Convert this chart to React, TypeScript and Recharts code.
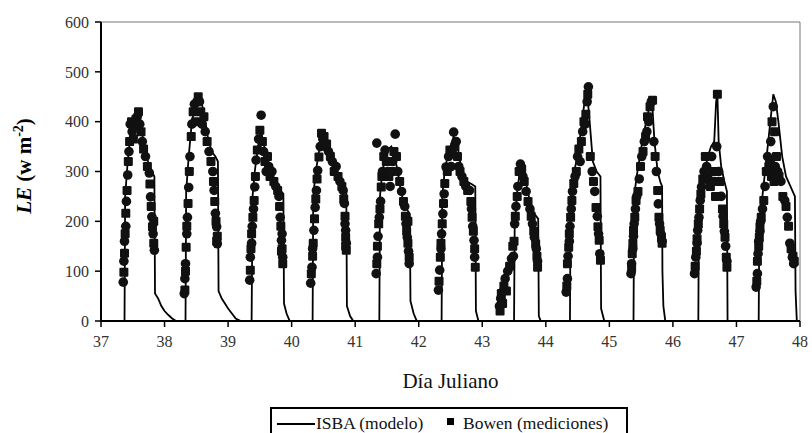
import { ComposedChart, Line, Scatter, XAxis, YAxis, ReferenceArea } from "recharts";

// Flujo de calor latente: ISBA (modelo) vs. Bowen (mediciones), días julianos 37-48

const diasTicks = [37, 38, 39, 40, 41, 42, 43, 44, 45, 46, 47, 48];
const leTicks = [0, 100, 200, 300, 400, 500, 600];

// ISBA (modelo): una fila por día
const isbaDia = [
  37.0, 37.37, 37.38, 37.42, 37.47, 37.52, 37.58, 37.63, 37.68, 37.74, 37.8, 37.84, 37.85, 37.9, 37.95, 38.0, 38.06, 38.12, 38.18,
  38.33, 38.34, 38.38, 38.43, 38.48, 38.53, 38.58, 38.63, 38.68, 38.74, 38.8, 38.84, 38.85, 38.9, 38.95, 39.0, 39.06, 39.12, 39.2,
  39.37, 39.385, 39.42, 39.47, 39.52, 39.57, 39.62, 39.67, 39.73, 39.8, 39.87, 39.88, 39.92, 39.97,
  40.33, 40.34, 40.38, 40.43, 40.48, 40.53, 40.58, 40.63, 40.68, 40.74, 40.8, 40.86, 40.87, 40.92, 40.97,
  41.38, 41.39, 41.42, 41.47, 41.52, 41.57, 41.62, 41.67, 41.72, 41.78, 41.86, 41.87, 41.92, 41.97,
  42.36, 42.37, 42.4, 42.45, 42.5, 42.55, 42.6, 42.65, 42.7, 42.76, 42.83, 42.89, 42.9, 42.94,
  43.5, 43.51, 43.55, 43.6, 43.65, 43.7, 43.75, 43.82, 43.88, 43.89, 43.92,
  44.38, 44.39, 44.43, 44.48, 44.53, 44.58, 44.62, 44.65, 44.69, 44.74, 44.8, 44.86, 44.87, 44.92,
  45.38, 45.39, 45.43, 45.48, 45.53, 45.58, 45.63, 45.67, 45.71, 45.76, 45.8, 45.83, 45.835, 45.85, 45.88,
  46.4, 46.41, 46.45, 46.5, 46.55, 46.6, 46.65, 46.68, 46.7, 46.72, 46.76, 46.81, 46.85, 46.86,
  47.35, 47.36, 47.4, 47.45, 47.5, 47.55, 47.58, 47.62, 47.66, 47.72, 47.78, 47.85, 47.92, 47.93, 47.95, 48.0,
];
const isbaLE = [
  0, 0, 250, 320, 380, 400, 420, 390, 350, 320, 300, 290, 55, 45, 30, 20, 12, 5, 0,
  0, 260, 330, 400, 430, 450, 440, 410, 370, 340, 330, 320, 60, 45, 35, 25, 15, 5, 0,
  0, 250, 300, 350, 380, 350, 320, 300, 280, 265, 255, 35, 15, 0,
  0, 250, 300, 340, 375, 370, 345, 320, 300, 280, 270, 262, 30, 10, 0,
  0, 250, 290, 330, 345, 350, 330, 300, 260, 230, 215, 40, 15, 0,
  0, 250, 290, 330, 350, 370, 360, 320, 290, 280, 275, 270, 20, 0,
  0, 190, 260, 310, 300, 270, 240, 215, 205, 10, 0,
  0, 260, 290, 320, 360, 410, 450, 460, 400, 320, 300, 290, 25, 0,
  0, 250, 290, 330, 370, 400, 430, 445, 360, 300, 280, 270, 100, 30, 0,
  0, 250, 280, 300, 330, 350, 360, 440, 455, 360, 310, 280, 260, 0,
  0, 200, 240, 300, 360, 420, 455, 440, 400, 330, 290, 270, 250, 60, 0, 0,
];

// Bowen (mediciones): una fila por día (subida, máximo, bajada)
const bowenDia = [
  37.35, 37.36, 37.36, 37.37, 37.37, 37.38, 37.39, 37.39, 37.4, 37.41, 37.42, 37.43, 37.44, 37.45, 37.46, 37.48, 37.49, 37.51, 37.53, 37.55, 37.57, 37.59, 37.61, 37.63, 37.65, 37.67, 37.7, 37.73, 37.76, 37.77, 37.78, 37.79, 37.8, 37.81, 37.82, 37.83, 37.84, 37.83,
  38.31, 38.32, 38.32, 38.33, 38.33, 38.34, 38.35, 38.35, 38.36, 38.37, 38.38, 38.39, 38.4, 38.42, 38.43, 38.45, 38.47, 38.49, 38.51, 38.53, 38.55, 38.57, 38.59, 38.62, 38.64, 38.67, 38.7, 38.73, 38.76, 38.77, 38.78, 38.79, 38.8, 38.81, 38.82, 38.83, 38.83, 38.82,
  39.34, 39.35, 39.35, 39.36, 39.37, 39.37, 39.38, 39.39, 39.4, 39.41, 39.42, 39.43, 39.44, 39.46, 39.48, 39.5, 39.52, 39.54, 39.56, 39.58, 39.6, 39.62, 39.64, 39.66, 39.69, 39.72, 39.75, 39.78, 39.8, 39.81, 39.82, 39.83, 39.84, 39.85, 39.86, 39.86, 39.85, 39.84,
  40.3, 40.31, 40.32, 40.33, 40.33, 40.34, 40.35, 40.36, 40.37, 40.38, 40.39, 40.4, 40.41, 40.43, 40.45, 40.47, 40.49, 40.51, 40.53, 40.55, 40.58, 40.61, 40.64, 40.67, 40.7, 40.73, 40.76, 40.79, 40.81, 40.82, 40.83, 40.84, 40.85, 40.85, 40.86, 40.86, 40.84, 40.85,
  41.33, 41.34, 41.35, 41.35, 41.36, 41.37, 41.38, 41.39, 41.4, 41.41, 41.34, 41.42, 41.43, 41.45, 41.47, 41.49, 41.51, 41.53, 41.55, 41.57, 41.59, 41.61, 41.63, 41.65, 41.67, 41.7, 41.73, 41.76, 41.78, 41.79, 41.8, 41.81, 41.82, 41.83, 41.84, 41.85, 41.85, 41.83,
  42.31, 42.32, 42.33, 42.34, 42.35, 42.35, 42.36, 42.37, 42.38, 42.39, 42.4, 42.41, 42.43, 42.45, 42.47, 42.49, 42.51, 42.53, 42.55, 42.57, 42.59, 42.61, 42.63, 42.65, 42.68, 42.71, 42.74, 42.77, 42.8, 42.82, 42.83, 42.84, 42.85, 42.86, 42.87, 42.88, 42.88, 42.89,
  43.27, 43.28, 43.29, 43.3, 43.31, 43.32, 43.33, 43.34, 43.36, 43.38, 43.4, 43.43, 43.46, 43.48, 43.49, 43.5, 43.51, 43.52, 43.53, 43.55, 43.56, 43.58, 43.6, 43.62, 43.64, 43.66, 43.69, 43.72, 43.75, 43.77, 43.79, 43.81, 43.82, 43.84, 43.85, 43.86, 43.87, 43.87,
  44.32, 44.33, 44.34, 44.34, 44.35, 44.36, 44.37, 44.37, 44.38, 44.39, 44.4, 44.41, 44.42, 44.44, 44.46, 44.48, 44.5, 44.52, 44.54, 44.56, 44.58, 44.6, 44.62, 44.63, 44.65, 44.66, 44.67, 44.7, 44.73, 44.75, 44.77, 44.79, 44.81, 44.82, 44.83, 44.84, 44.85, 44.86,
  45.34, 45.35, 45.35, 45.36, 45.37, 45.37, 45.38, 45.38, 45.39, 45.4, 45.41, 45.42, 45.43, 45.45, 45.47, 45.49, 45.51, 45.53, 45.55, 45.57, 45.59, 45.6, 45.62, 45.64, 45.66, 45.68, 45.7, 45.72, 45.74, 45.76, 45.77, 45.78, 45.79, 45.8, 45.81, 45.82, 45.83, 45.83,
  46.34, 46.35, 46.36, 46.37, 46.38, 46.38, 46.39, 46.4, 46.41, 46.42, 46.43, 46.44, 46.45, 46.47, 46.49, 46.51, 46.53, 46.55, 46.57, 46.59, 46.61, 46.63, 46.65, 46.67, 46.69, 46.7, 46.72, 46.74, 46.76, 46.78, 46.79, 46.8, 46.81, 46.82, 46.83, 46.84, 46.85, 46.85,
  47.31, 47.32, 47.33, 47.33, 47.34, 47.35, 47.35, 47.36, 47.37, 47.37, 47.38, 47.39, 47.41, 47.43, 47.45, 47.47, 47.49, 47.51, 47.53, 47.55, 47.57, 47.59, 47.61, 47.63, 47.65, 47.67, 47.7, 47.73, 47.76, 47.78, 47.8, 47.82, 47.84, 47.86, 47.88, 47.89, 47.9, 47.91, 47.54, 47.56, 47.58, 47.6,
];
const bowenLE = [
  78, 98, 120, 136, 160, 175, 190, 216, 240, 262, 293, 320, 340, 360, 395, 400, 380, 365, 390, 405, 410, 420, 395, 380, 360, 345, 330, 310, 297, 275, 249, 230, 209, 189, 175, 156, 142, 200,
  55, 62, 85, 100, 115, 148, 175, 190, 208, 236, 268, 300, 330, 370, 395, 420, 435, 400, 440, 450, 440, 420, 395, 410, 380, 360, 340, 320, 300, 280, 262, 240, 216, 200, 189, 170, 155, 160,
  82, 102, 128, 145, 156, 175, 190, 208, 225, 242, 269, 290, 323, 343, 365, 383, 413, 360, 340, 320, 300, 330, 310, 290, 300, 280, 270, 262, 250, 230, 208, 190, 162, 145, 128, 115, 175, 140,
  76, 95, 108, 130, 145, 156, 182, 205, 228, 245, 262, 285, 302, 329, 350, 377, 365, 370, 350, 355, 340, 330, 320, 300, 310, 290, 280, 270, 262, 245, 236, 210, 182, 168, 156, 142, 195, 150,
  95, 115, 128, 150, 170, 195, 208, 225, 240, 269, 357, 290, 300, 330, 343, 320, 300, 290, 270, 300, 320, 340, 375, 330, 300, 280, 260, 240, 230, 210, 195, 180, 168, 156, 140, 128, 115, 200,
  62, 80, 102, 128, 145, 156, 175, 195, 215, 236, 255, 276, 309, 300, 330, 343, 310, 340, 379, 350, 360, 330, 310, 300, 290, 280, 270, 262, 262, 240, 225, 208, 190, 180, 162, 145, 128, 108,
  30, 20, 45, 55, 40, 35, 60, 70, 85, 60, 100, 110, 125, 150, 130, 160, 195, 210, 230, 250, 270, 300, 315, 305, 290, 280, 260, 240, 225, 210, 195, 180, 168, 155, 145, 130, 120, 108,
  58, 70, 85, 115, 130, 148, 160, 175, 190, 208, 225, 242, 260, 276, 290, 300, 330, 345, 320, 360, 380, 400, 395, 415, 440, 455, 470, 330, 300, 280, 260, 228, 210, 189, 175, 162, 135, 122,
  95, 105, 115, 135, 145, 156, 170, 182, 195, 208, 225, 242, 250, 260, 285, 310, 330, 340, 360, 370, 380, 410, 400, 430, 440, 443, 360, 330, 300, 262, 235, 208, 195, 182, 175, 168, 160, 156,
  95, 110, 128, 140, 156, 165, 182, 195, 208, 225, 242, 255, 269, 285, 300, 330, 310, 290, 280, 270, 330, 300, 280, 250, 350, 455, 300, 280, 250, 225, 210, 195, 180, 168, 150, 128, 120, 108,
  68, 80, 95, 120, 135, 150, 160, 168, 180, 189, 200, 208, 225, 242, 270, 300, 330, 310, 320, 290, 300, 280, 310, 330, 300, 290, 280, 250, 242, 230, 208, 190, 156, 145, 128, 130, 115, 120, 360, 400, 430, 380,
];

const isbaData = isbaDia.map((d, i) => ({ d, le: isbaLE[i] }));
const bowenData = bowenDia.map((d, i) => ({ d, le: bowenLE[i], i }));

const SERIF = "Liberation Serif";
const tickStyle = { fontSize: 16, fontFamily: SERIF, fill: "#333" };

function Marca(props: any) {
  const { cx, cy, payload } = props;
  if (cx == null || cy == null) return null;
  if (payload.i % 2 === 0) return <circle cx={cx} cy={cy} r={4.8} fill="#111" />;
  return <rect x={cx - 4.5} y={cy - 4.5} width={9} height={9} rx={1.2} fill="#111" />;
}

function EtiquetaY() {
  return (
    <text
      transform="translate(31,166) rotate(-90)"
      textAnchor="middle"
      fontFamily={SERIF}
      fontSize={21}
      fontWeight="bold"
      fill="#000"
    >
      <tspan fontStyle="italic">LE</tspan>
      <tspan> (w m</tspan>
      <tspan dy={-8} fontSize={14}>-2</tspan>
      <tspan dy={8}>)</tspan>
    </text>
  );
}

export default function App() {
  return (
    <div
      style={{
        position: "absolute",
        left: 0,
        top: 0,
        width: 812,
        height: 433,
        background: "#fff",
        overflow: "hidden",
      }}
    >
      <ComposedChart width={812} height={433} margin={{ top: 22, right: 12, bottom: 82, left: 0 }}>
        <ReferenceArea
          x1={37}
          x2={48}
          y1={0}
          y2={600}
          fill="none"
          stroke="#777"
          strokeWidth={1}
          ifOverflow="visible"
        />
        <XAxis
          type="number"
          dataKey="d"
          domain={[37, 48]}
          ticks={diasTicks}
          allowDataOverflow
          height={30}
          tick={tickStyle}
          tickSize={6}
          tickMargin={9}
          axisLine={{ stroke: "#000", strokeWidth: 2 }}
          tickLine={{ stroke: "#000", strokeWidth: 1.5 }}
          label={{
            value: "Día Juliano",
            position: "bottom",
            offset: 22,
            style: { fontSize: 21, fontFamily: SERIF, fill: "#111" },
          }}
        />
        <YAxis
          type="number"
          domain={[0, 600]}
          ticks={leTicks}
          width={101}
          tick={tickStyle}
          tickSize={6}
          tickMargin={6}
          axisLine={{ stroke: "#000", strokeWidth: 2 }}
          tickLine={{ stroke: "#000", strokeWidth: 1.5 }}
          label={<EtiquetaY />}
        />
        <Line
          data={isbaData}
          dataKey="le"
          type="linear"
          stroke="#000"
          strokeWidth={1.8}
          dot={false}
          activeDot={false}
          isAnimationActive={false}
        />
        <Scatter data={bowenData} dataKey="le" shape={Marca} isAnimationActive={false} />
      </ComposedChart>

      <svg
        width={812}
        height={433}
        style={{ position: "absolute", left: 0, top: 0, pointerEvents: "none" }}
      >
        <rect x={271} y={408} width={356} height={40} fill="none" stroke="#000" strokeWidth={2} />
        <line x1={277} x2={315} y1={424} y2={424} stroke="#000" strokeWidth={2} />
        <text x={316} y={429} fontFamily={SERIF} fontSize={17.5} fill="#111">
          ISBA (modelo)
        </text>
        <rect x={447} y={418} width={7} height={7} fill="#000" />
        <text x={463} y={429} fontFamily={SERIF} fontSize={17.5} fill="#111">
          Bowen (mediciones)
        </text>
      </svg>
    </div>
  );
}
